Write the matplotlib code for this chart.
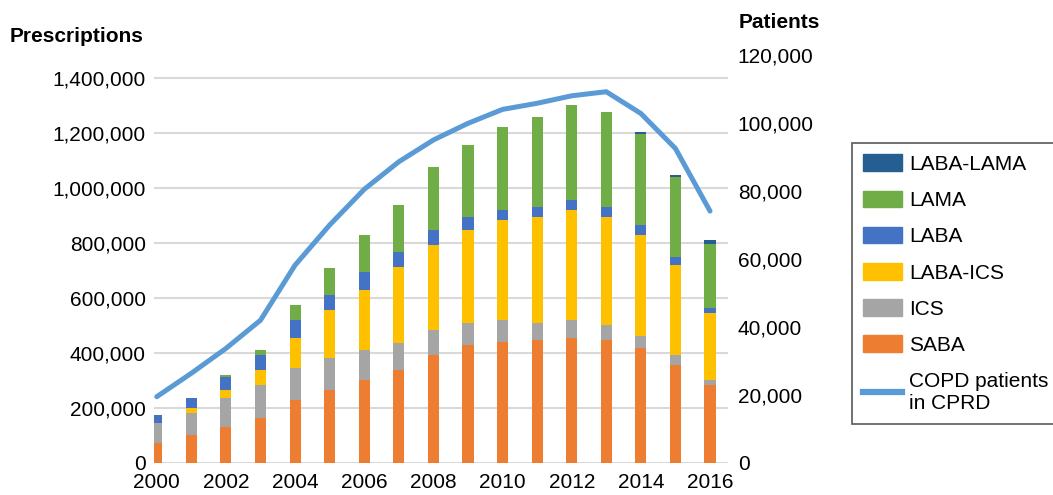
import matplotlib.pyplot as plt
import matplotlib.patches as mpatches
import matplotlib.lines as mlines
from matplotlib.ticker import FuncFormatter
import numpy as np

plt.rcParams['font.family'] = ['Liberation Sans', 'DejaVu Sans']

years = list(range(2000, 2017))
# prescriptions, thousands
saba = [73, 102, 130, 165, 229, 265, 302, 338, 393, 429, 439, 447, 456, 447, 419, 356, 284]
ics = [73, 79, 108, 118, 118, 118, 108, 97, 91, 81, 81, 63, 64, 55, 44, 37, 18]
laba_ics = [0, 20, 28, 56, 109, 173, 219, 277, 309, 337, 364, 383, 400, 391, 366, 327, 245]
laba = [28, 36, 46, 55, 64, 55, 64, 54, 55, 46, 36, 37, 36, 37, 36, 28, 18]
lama = [0, 0, 7, 17, 55, 99, 136, 173, 228, 263, 301, 327, 346, 345, 330, 292, 231]
laba_lama = [0, 0, 0, 0, 0, 0, 0, 0, 0, 0, 0, 0, 0, 0, 7, 7, 15]
# COPD patients in CPRD, thousands
patients = [19.5, 26.4, 33.7, 42.0, 58.2, 70.0, 80.5, 88.6, 95.0, 99.9,
            104.0, 105.8, 108.0, 109.2, 102.8, 92.5, 74.1]

series = [('SABA', saba, '#ED7D31'),
          ('ICS', ics, '#A5A5A5'),
          ('LABA-ICS', laba_ics, '#FFC000'),
          ('LABA', laba, '#4472C4'),
          ('LAMA', lama, '#70AD47'),
          ('LABA-LAMA', laba_lama, '#255E91')]
line_color = '#5B9BD5'
grid_color = '#D9D9D9'
fs = 15

fig = plt.figure(figsize=(10.53, 4.95), dpi=100)
ax = fig.add_axes([154 / 1053, 32 / 495, 574 / 1053, 408 / 495])
ax2 = ax.twinx()

x = np.array(years)
bottom = np.zeros(len(years))
for name, vals, col in series:
    v = np.array(vals) * 1000
    ax.bar(x, v, 0.32, bottom=bottom, color=col, label=name, zorder=2)
    bottom += v

ax2.plot(x, np.array(patients) * 1000, color=line_color, lw=3.6,
         solid_capstyle='round', solid_joinstyle='round', zorder=3)

ax.set_xlim(1999.92, 2016.52)
ax.set_ylim(0, 1400000 * 408 / 385)
ax2.set_ylim(0, 120000)

ax.set_yticks(np.arange(0, 1400001, 200000))
ax2.set_yticks(np.arange(0, 120001, 20000))
ax.set_xticks(years[::2])
fmt = FuncFormatter(lambda v, p: f'{v:,.0f}')
ax.yaxis.set_major_formatter(fmt)
ax2.yaxis.set_major_formatter(fmt)

ax.grid(axis='y', color=grid_color, lw=1.5, zorder=0)
ax.set_axisbelow(True)
for a in (ax, ax2):
    for s in a.spines.values():
        s.set_visible(False)
    a.tick_params(length=0, labelsize=fs)
ax.tick_params(axis='y', pad=6)
ax2.tick_params(axis='y', pad=7)
ax.tick_params(axis='x', pad=7)

fig.text(10 / 1053, 1 - 36 / 495, 'Prescriptions', fontsize=fs, fontweight='bold',
         ha='left', va='center')
fig.text(739 / 1053, 1 - 23 / 495, 'Patients', fontsize=fs, fontweight='bold',
         ha='left', va='center')

handles = [mpatches.Patch(color=c, label=n) for n, _, c in series[::-1]]
handles.append(mlines.Line2D([], [], color=line_color, lw=4.5, label='COPD patients\nin CPRD'))
leg = fig.legend(handles=handles, loc='upper left',
                 bbox_to_anchor=(852 / 1053, 1 - 143 / 495), fontsize=fs,
                 frameon=True, fancybox=False, borderpad=0.55, labelspacing=0.8,
                 handlelength=1.85, handleheight=0.85, handletextpad=0.35,
                 borderaxespad=0)
leg.get_frame().set_edgecolor('#404040')
leg.get_frame().set_linewidth(1.3)

fig.savefig('out.png', dpi=100)
